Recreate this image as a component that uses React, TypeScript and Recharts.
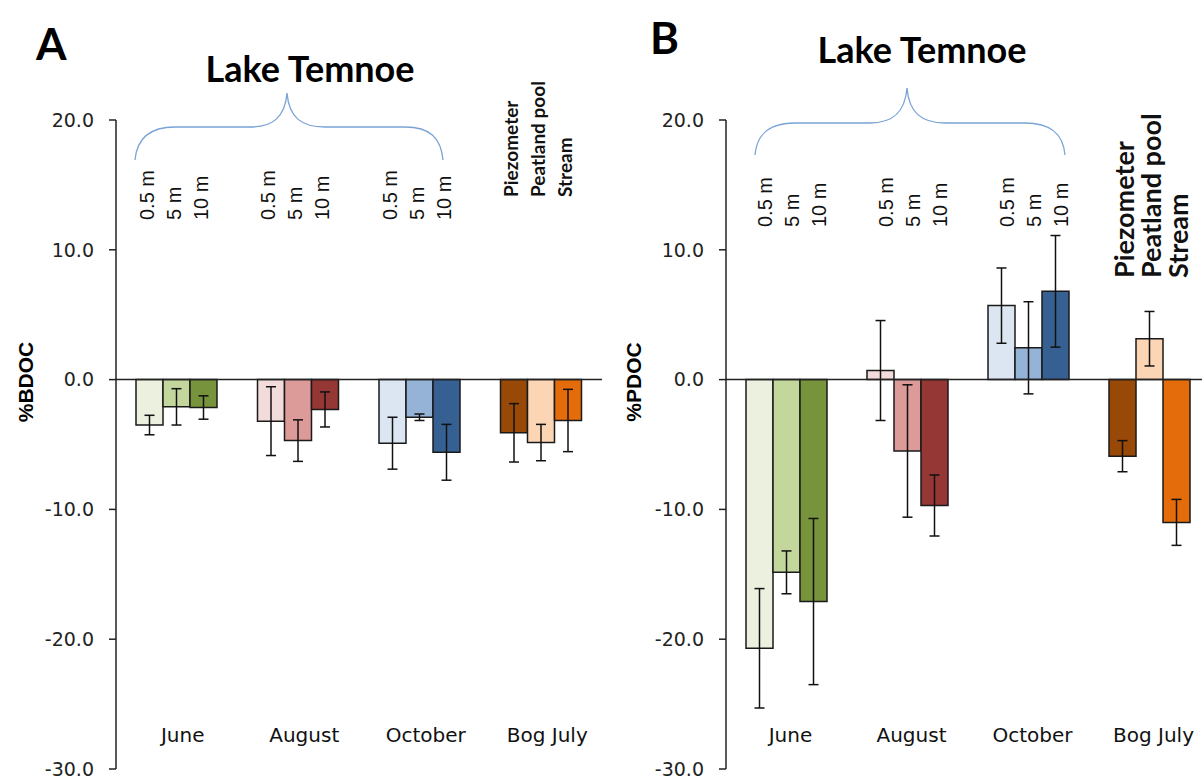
import React from "react";
import {
  BarChart,
  Bar,
  XAxis,
  YAxis,
  ReferenceLine,
  ErrorBar,
  Cell,
  LabelList,
} from "recharts";

const categories = ["June", "August", "October", "Bog July"];
const depthLabels = ["0.5 m", "5 m", "10 m"];
const bogSites = ["Piezometer", "Peatland pool", "Stream"];
const yTicks = [-30, -20, -10, 0, 10, 20];

// panel A - %BDOC
const bdoc1 = [-3.5, -3.2, -4.9, -4.1];
const bdoc2 = [-2.1, -4.7, -2.9, -4.85];
const bdoc3 = [-2.15, -2.3, -5.6, -3.15];
const bdocErr1 = [0.75, 2.65, 2.0, 2.25];
const bdocErr2 = [1.4, 1.6, 0.25, 1.4];
const bdocErr3 = [0.9, 1.35, 2.15, 2.4];

// panel B - %PDOC
const pdoc1 = [-20.7, 0.7, 5.7, -5.9];
const pdoc2 = [-14.85, -5.5, 2.45, 3.15];
const pdoc3 = [-17.1, -9.7, 6.8, -11.0];
const pdocErr1 = [4.6, 3.85, 2.9, 1.2];
const pdocErr2 = [1.65, 5.1, 3.55, 2.1];
const pdocErr3 = [6.4, 2.35, 4.3, 1.77];

// one row of colours per category, one column per series
const palette = [
  ["#ebf1de", "#c3d69b", "#77933c"],
  ["#f2dcdb", "#dc9a98", "#953735"],
  ["#dce6f2", "#95b3d7", "#376092"],
  ["#984807", "#fcd5b5", "#e46c0a"],
];

const makeRows = (v1: number[], v2: number[], v3: number[], e1: number[], e2: number[], e3: number[]) =>
  categories.map((name, i) => ({
    name,
    v1: v1[i],
    v2: v2[i],
    v3: v3[i],
    e1: e1[i],
    e2: e2[i],
    e3: e3[i],
  }));

const rowsA = makeRows(bdoc1, bdoc2, bdoc3, bdocErr1, bdocErr2, bdocErr3);
const rowsB = makeRows(pdoc1, pdoc2, pdoc3, pdocErr1, pdocErr2, pdocErr3);

const ARIAL = "'Liberation Sans', Arial, sans-serif";
const CAL = "Lato, 'Open Sans', sans-serif";

type Cfg = {
  depthY: number;
  depthDx: number;
  bogY: number;
  bogDx: number;
  bogSize: number;
  monthDx: number;
};

const topLabel = (series: number, cfg: Cfg) => (props: any) => {
  const { x, width, index } = props;
  const bog = index === 3;
  const cx = Number(x) + Number(width) / 2 + (bog ? cfg.bogDx : cfg.depthDx);
  const y = bog ? cfg.bogY : cfg.depthY;
  return (
    <text
      x={cx}
      y={y}
      transform={`rotate(-90 ${cx} ${y})`}
      dominantBaseline="central"
      textAnchor="start"
      fontFamily={bog ? CAL : ARIAL}
      fontWeight={bog ? 700 : 400}
      fontSize={bog ? cfg.bogSize : 20}
      fill="#111"
    >
      {bog ? bogSites[series] : depthLabels[series]}
    </text>
  );
};

const monthTick = (dx: number) => (props: any) => {
  const { x, y, payload } = props;
  return (
    <text
      x={Number(x) + dx}
      y={Number(y) - 27}
      textAnchor="middle"
      fontFamily="'DejaVu Sans', sans-serif"
      fontSize={20}
      fill="#111"
    >
      {payload.value}
    </text>
  );
};

function Panel({ rows, left, width, cfg }: { rows: any[]; left: number; width: number; cfg: Cfg }) {
  const series = ["v1", "v2", "v3"];
  const errs = ["e1", "e2", "e3"];
  return (
    <div style={{ position: "absolute", left, top: 0, width, height: 780 }}>
      <BarChart
        width={width}
        height={780}
        data={rows}
        margin={{ top: 120, right: 5, bottom: 10, left: 0 }}
        barGap={0}
        barSize={27}
      >
        <XAxis
          dataKey="name"
          height={1}
          axisLine={false}
          tickLine={false}
          tickSize={0}
          tickMargin={0}
          interval={0}
          tick={monthTick(cfg.monthDx)}
        />
        <YAxis
          width={116}
          domain={[-30, 20]}
          ticks={yTicks}
          interval={0}
          tickFormatter={(v: number) => v.toFixed(1)}
          tickSize={7}
          tickMargin={15}
          axisLine={{ stroke: "#222", strokeWidth: 1.5 }}
          tickLine={{ stroke: "#222", strokeWidth: 1.5 }}
          tick={{ fill: "#222", fontSize: 19, fontFamily: "'DejaVu Sans', sans-serif" }}
        />
        {series.map((key, s) => (
          <Bar
            key={key}
            dataKey={key}
            isAnimationActive={false}
            stroke="#1a1a1a"
            strokeWidth={1.5}
          >
            {rows.map((r, i) => (
              <Cell key={r.name} fill={palette[i][s]} />
            ))}
            <ErrorBar dataKey={errs[s]} direction="y" width={5} stroke="#111" strokeWidth={1.5} />
            <LabelList dataKey={key} content={topLabel(s, cfg)} />
          </Bar>
        ))}
        <ReferenceLine y={0} stroke="#222" strokeWidth={1.5} ifOverflow="extendDomain" />
      </BarChart>
    </div>
  );
}

export default function App() {
  return (
    <div
      style={{
        position: "absolute",
        left: 0,
        top: 0,
        width: 1202,
        height: 780,
        overflow: "hidden",
        background: "#fff",
      }}
    >
      <Panel
        rows={rowsA}
        left={0}
        width={607}
        cfg={{ depthY: 220, depthDx: -3, bogY: 197, bogDx: -4, bogSize: 19, monthDx: 6 }}
      />
      <Panel
        rows={rowsB}
        left={610}
        width={605}
        cfg={{ depthY: 227, depthDx: 5, bogY: 278, bogDx: 1, bogSize: 27, monthDx: 4 }}
      />

      <svg
        width={1202}
        height={780}
        style={{ position: "absolute", left: 0, top: 0, pointerEvents: "none" }}
      >
        <text x={36} y={60} fontFamily={CAL} fontWeight={700} fontSize={44} fill="#000">A</text>
        <text x={650} y={54} fontFamily={CAL} fontWeight={700} fontSize={44} fill="#000">B</text>

        <text x={310} y={82} textAnchor="middle" fontFamily={CAL} fontWeight={700} fontSize={36} fill="#000">
          Lake Temnoe
        </text>
        <text x={922} y={63} textAnchor="middle" fontFamily={CAL} fontWeight={700} fontSize={36} fill="#000">
          Lake Temnoe
        </text>

        <path
          d="M135,160 C137,138 150,127 175,127 L250,127 C272,127 285,118 287,93 C289,118 302,127 325,127 L405,127 C430,127 441,138 443,160"
          fill="none"
          stroke="#7aa3d6"
          strokeWidth={1.3}
        />
        <path
          d="M755,155 C757,133 770,123 795,123 L870,123 C892,123 905,113 907,88 C909,113 922,123 945,123 L1025,123 C1050,123 1063,133 1065,155"
          fill="none"
          stroke="#7aa3d6"
          strokeWidth={1.3}
        />

        <text
          x={25}
          y={382}
          transform="rotate(-90 25 382)"
          textAnchor="middle"
          dominantBaseline="central"
          fontFamily={ARIAL}
          fontWeight={700}
          fontSize={21}
          fill="#000"
        >
          %BDOC
        </text>
        <text
          x={633}
          y={382}
          transform="rotate(-90 633 382)"
          textAnchor="middle"
          dominantBaseline="central"
          fontFamily={ARIAL}
          fontWeight={700}
          fontSize={21}
          fill="#000"
        >
          %PDOC
        </text>
      </svg>
    </div>
  );
}
